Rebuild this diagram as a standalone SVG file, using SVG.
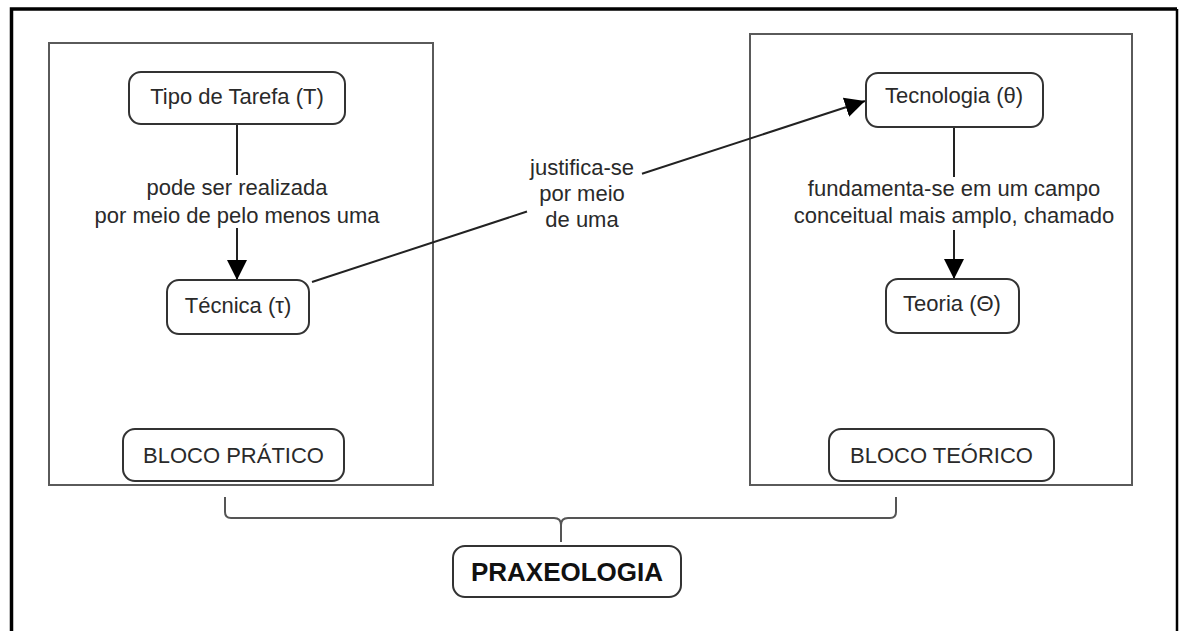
<svg xmlns="http://www.w3.org/2000/svg" width="1179" height="631" viewBox="0 0 1179 631">
<defs>
<style>
.frame{fill:none;stroke:#000;}
.block{fill:none;stroke:#5a5a5a;stroke-width:2;}
.node rect{fill:#fff;stroke:#333;stroke-width:2;}
.node text,.lbl{font-family:"Liberation Sans",Arial,sans-serif;font-size:22px;fill:#2a2a2a;text-anchor:middle;}
.bold{font-weight:bold;font-size:26px !important;fill:#111 !important;}
.edge{fill:none;stroke:#222;stroke-width:2;}
.brace{fill:none;stroke:#555;stroke-width:2;}
</style>
<marker id="arr" markerUnits="userSpaceOnUse" markerWidth="20" markerHeight="20" refX="20" refY="10" orient="auto">
<path d="M0,0 L20,10 L0,20 z" fill="#000"/>
</marker>
</defs>
<rect width="1179" height="631" fill="#fff"/>
<path class="frame" d="M11.5,631 V9 H1177" stroke-width="3.5"/>
<path class="frame" d="M1177,9 V631" stroke-width="2.5"/>
<rect class="block" x="49" y="43" width="384" height="442"/>
<rect class="block" x="750" y="34" width="382" height="451"/>
<g id="connectors">
<path class="edge" d="M237,124 V175"/>
<path class="edge" d="M237,228 V280" marker-end="url(#arr)"/>
<path class="edge" d="M312,282 L527,211.5"/>
<path class="edge" d="M642,173.8 L865,101" marker-end="url(#arr)"/>
<path class="edge" d="M954,127 V177"/>
<path class="edge" d="M954,230 V279" marker-end="url(#arr)"/>
<path class="brace" d="M225,497 V512 Q225,518 231,518 H554 Q561,518 561,525 Q561,518 568,518 H890 Q896,518 896,512 V497 M561,525 V542"/>
<text class="lbl" x="237" y="195">pode ser realizada</text>
<text class="lbl" x="237" y="223">por meio de pelo menos uma</text>
<text class="lbl" x="582" y="175">justifica-se</text>
<text class="lbl" x="582" y="201">por meio</text>
<text class="lbl" x="582" y="227">de uma</text>
<text class="lbl" x="954" y="196">fundamenta-se em um campo</text>
<text class="lbl" x="954" y="223">conceitual mais amplo, chamado</text>
</g>
<g id="tipo" class="node"><rect x="129" y="72" width="216" height="52" rx="12"/><text x="237" y="104">Tipo de Tarefa (T)</text></g>
<g id="tecnica" class="node"><rect x="167" y="280" width="142" height="54" rx="12"/><text x="238" y="313">Técnica (τ)</text></g>
<g id="tecnologia" class="node"><rect x="866" y="73" width="177" height="54" rx="12"/><text x="954" y="103">Tecnologia (θ)</text></g>
<g id="teoria" class="node"><rect x="886" y="279" width="133" height="54" rx="12"/><text x="952" y="311">Teoria (Θ)</text></g>
<g id="bloco-pratico" class="node"><rect x="123" y="429" width="221" height="52" rx="12"/><text x="233.5" y="463">BLOCO PRÁTICO</text></g>
<g id="bloco-teorico" class="node"><rect x="829" y="429" width="225" height="52" rx="12"/><text x="941.5" y="463">BLOCO TEÓRICO</text></g>
<g id="praxeologia" class="node"><rect x="453" y="546" width="228" height="51" rx="12"/><text class="bold" x="567" y="581">PRAXEOLOGIA</text></g>
</svg>
